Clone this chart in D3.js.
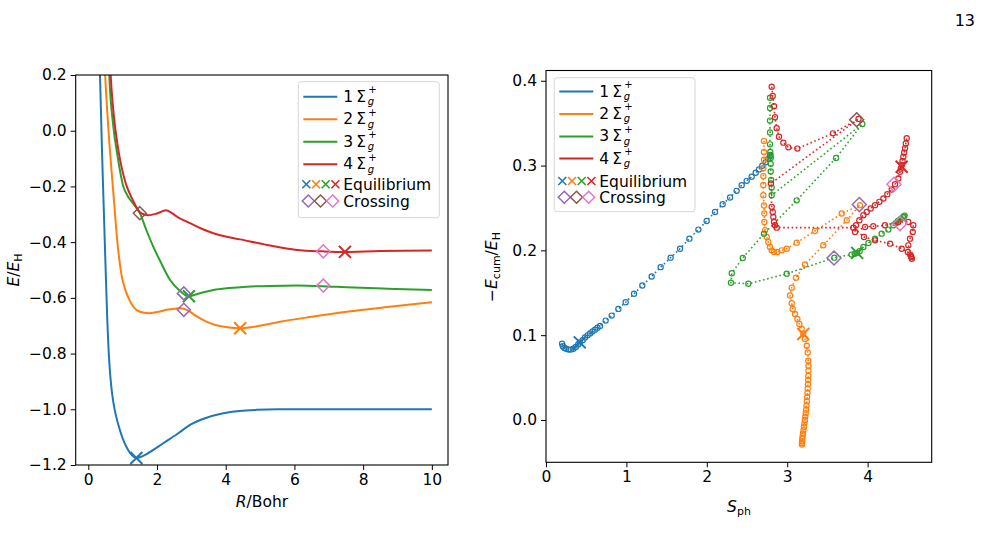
<!DOCTYPE html>
<html>
<head>
<meta charset="utf-8">
<script src="https://cdn.jsdelivr.net/npm/d3@7"></script>
<style>
body{margin:0;background:#fff;}
text{font-family:"DejaVu Sans",sans-serif;fill:#000;}
</style>
</head>
<body>
<div id="fig"></div>
<script>
// ---- left panel: potential energy curves E(R)
var rBlue = [0.28,0.34,0.40,0.45,0.50,0.55,0.61,0.67,0.73,0.80,0.92,1.05,1.16,1.28,1.39,1.55,1.80,2.18,2.60,2.96,3.40,3.93,4.40,4.90,5.50,7.00,10.0];
var eBlue = [0.50,0.20,-0.08,-0.28,-0.48,-0.67,-0.83,-0.92,-0.975,-1.02,-1.075,-1.12,-1.146,-1.166,-1.175,-1.17,-1.153,-1.122,-1.088,-1.056,-1.032,-1.014,-1.006,-1.002,-1.0,-1.0,-1.0];
var rOrange = [0.42,0.49,0.58,0.73,0.85,0.97,1.05,1.15,1.31,1.50,1.75,2.00,2.28,2.67,2.90,3.10,3.45,3.90,4.42,5.00,5.58,6.50,7.52,8.70,10.0];
var eOrange = [0.40,0.20,0.015,-0.225,-0.404,-0.52,-0.56,-0.595,-0.632,-0.65,-0.655,-0.651,-0.643,-0.637,-0.645,-0.662,-0.686,-0.703,-0.709,-0.700,-0.686,-0.668,-0.65,-0.633,-0.616];
var rGreen = [0.55,0.61,0.73,0.85,1.02,1.15,1.31,1.50,1.70,1.89,2.10,2.38,2.67,2.91,3.20,3.64,4.10,4.61,5.30,6.07,6.80,7.52,8.70,10.0];
var eGreen = [0.42,0.20,0.014,-0.09,-0.20,-0.235,-0.262,-0.296,-0.36,-0.416,-0.47,-0.536,-0.575,-0.594,-0.585,-0.572,-0.565,-0.56,-0.557,-0.556,-0.558,-0.562,-0.567,-0.572];
var rRed = [0.60,0.65,0.78,0.95,1.12,1.30,1.50,1.65,1.80,2.00,2.28,2.60,2.96,3.30,3.64,4.00,4.42,5.20,6.07,6.84,7.47,8.50,10.0];
var eRed = [0.42,0.20,0.014,-0.12,-0.20,-0.25,-0.293,-0.302,-0.303,-0.297,-0.286,-0.31,-0.332,-0.352,-0.368,-0.38,-0.39,-0.41,-0.428,-0.433,-0.435,-0.432,-0.43];

var eqR = [1.40, 4.42, 2.93, 7.47];
var eqE = [-1.175, -0.709, -0.594, -0.435];
var crossR = [1.50, 2.78, 2.78, 6.84, 6.84];
var crossE = [-0.296, -0.643, -0.584, -0.433, -0.556];

// ---- right panel: S_ph vs -E_cum
var sBlue = [0.20,0.21,0.23,0.25,0.28,0.31,0.34,0.37,0.40,0.42,0.455,0.485,0.517,0.547,0.578,0.609,0.640,0.672,0.742,0.817,0.90,0.991,1.095,1.198,1.314,1.426,1.55,1.667,1.783,1.895,1.998,2.102,2.197,2.289,2.371,2.434,2.496,2.558,2.608,2.649,2.69,2.732,2.765,2.786,2.79];
var cBlue = [0.090,0.087,0.085,0.084,0.083,0.083,0.084,0.086,0.089,0.0915,0.094,0.0974,0.0998,0.1021,0.1043,0.1065,0.1087,0.1109,0.1172,0.1231,0.131,0.1388,0.1488,0.1586,0.1692,0.1802,0.1914,0.202,0.2138,0.2245,0.2347,0.2453,0.2544,0.2623,0.2702,0.2769,0.282,0.2868,0.2915,0.2955,0.2998,0.3038,0.3077,0.3112,0.3125];
var sOrange = [2.711,2.711,2.711,2.703,2.703,2.703,2.703,2.711,2.715,2.715,2.724,2.745,2.765,2.786,2.807,2.836,2.877,2.932,2.994,3.118,3.346,3.678,3.905,3.74,3.449,3.221,3.109,3.056,3.035,3.056,3.068,3.097,3.126,3.151,3.18,3.2,3.221,3.243,3.255,3.262,3.264,3.264,3.262,3.26,3.258,3.255,3.252,3.248,3.244,3.24,3.235,3.23,3.225,3.22,3.214,3.208,3.202,3.197,3.192,3.188,3.186,3.184,3.183];
var cOrange = [0.329,0.316,0.307,0.297,0.2876,0.277,0.265,0.253,0.2434,0.2335,0.2237,0.2158,0.2099,0.2039,0.2,0.198,0.198,0.2,0.202,0.2091,0.2229,0.2434,0.2533,0.2355,0.206,0.1834,0.1677,0.1559,0.1467,0.1376,0.131,0.125,0.119,0.1133,0.1073,0.1014,0.0955,0.0876,0.0796,0.0698,0.064,0.058,0.052,0.047,0.042,0.037,0.032,0.027,0.022,0.017,0.012,0.008,0.004,0.0,-0.004,-0.008,-0.012,-0.016,-0.019,-0.022,-0.025,-0.027,-0.029];
var sGreen = [2.786,2.786,2.786,2.786,2.786,2.79,2.792,2.795,2.795,2.795,2.80,2.807,2.807,3.934,3.607,3.118,2.711,2.447,2.31,2.30,2.516,2.994,3.586,3.80,3.84,3.87,3.90,3.947,4.01,4.092,4.175,4.258,4.32,4.35,4.38,4.41,4.44,4.46,4.45];
var cGreen = [0.380,0.368,0.353,0.339,0.325,0.316,0.312,0.309,0.302,0.293,0.283,0.274,0.265,0.349,0.309,0.259,0.2197,0.191,0.173,0.1618,0.1606,0.1724,0.1914,0.195,0.196,0.197,0.199,0.204,0.2087,0.2138,0.2197,0.2245,0.2296,0.232,0.235,0.237,0.239,0.241,0.24];
var sRed = [2.807,2.82,2.836,2.848,2.869,2.898,2.952,3.014,3.126,3.569,3.887,2.798,2.807,2.82,2.827,2.836,2.848,2.869,3.822,3.955,4.092,4.279,4.424,4.50,4.53,4.545,4.55,4.54,4.506,4.527,4.561,4.568,4.506,4.382,4.216,4.071,3.968,3.843,3.856,3.897,3.947,3.989,4.038,4.092,4.146,4.196,4.245,4.30,4.341,4.382,4.403,4.414,4.424,4.434,4.444,4.455,4.465,4.475,4.486];
var cRed = [0.393,0.382,0.37,0.357,0.344,0.334,0.327,0.3215,0.32,0.338,0.355,0.279,0.2513,0.2453,0.2394,0.2335,0.2296,0.2268,0.2268,0.2158,0.2118,0.2079,0.202,0.198,0.195,0.192,0.19,0.193,0.2059,0.2138,0.2217,0.2296,0.2335,0.2335,0.2296,0.2284,0.2276,0.2217,0.2296,0.2355,0.2414,0.2453,0.2493,0.2533,0.2572,0.2612,0.2663,0.2718,0.2781,0.2848,0.2927,0.2966,0.3006,0.3055,0.3104,0.3154,0.3204,0.326,0.3322];

var eqS = [0.42, 3.20, 3.87, 4.424];
var eqC = [0.0915, 0.1014, 0.197, 0.2986];
var crossS = [3.864, 3.897, 3.582, 4.328, 4.403];
var crossC = [0.354, 0.254, 0.191, 0.278, 0.2316];

var stateNames = ["1", "2", "3", "4"];
var colors = ["#1f77b4", "#ff7f0e", "#2ca02c", "#d62728"];
var crossColors = ["#8c564b", "#9467bd", "#9467bd", "#e377c2", "#e377c2"];
var legendCross = ["#9467bd", "#8c564b", "#e377c2"];

var svg = d3.select("#fig").append("svg")
    .attr("width", 981)
    .attr("height", 557);

var xL = d3.scaleLinear().domain([-0.367, 10.47]).range([75.7, 448]);
var yL = d3.scaleLinear().domain([-1.2, 0.2]).range([465, 75]);
var xR = d3.scaleLinear().domain([0, 4.797]).range([546, 931.7]);
var yR = d3.scaleLinear().domain([-0.0499, 0.4121]).range([462.3, 70.5]);

var xPath = function(s){ return "M"+(-s)+","+(-s)+"L"+s+","+s+"M"+(-s)+","+s+"L"+s+","+(-s); };
var dPath = function(s){ return "M0,"+(-s)+"L"+s+",0L0,"+s+"L"+(-s)+",0Z"; };

function clip(id, x, y){
    svg.append("clipPath").attr("id", id).append("rect")
        .attr("x", x.range()[0]).attr("y", y.range()[1])
        .attr("width", x.range()[1]-x.range()[0])
        .attr("height", y.range()[0]-y.range()[1]);
}
clip("clipL", xL, yL);
clip("clipR", xR, yR);

function axes(x, y, xt, yt){
    var gx = svg.append("g").attr("transform", "translate(0,"+y.range()[0]+")")
        .call(d3.axisBottom(x).tickValues(xt).tickSize(5).tickPadding(4).tickFormat(d3.format("d")));
    var gy = svg.append("g").attr("transform", "translate("+x.range()[0]+",0)")
        .call(d3.axisLeft(y).tickValues(yt).tickSize(5).tickPadding(4).tickFormat(d3.format(".1f")));
    [gx, gy].forEach(function(g){
        g.select(".domain").remove();
        g.selectAll("line").attr("stroke", "#000").attr("stroke-width", 1);
        g.selectAll("text").attr("font-size", 15.5).attr("font-family", "DejaVu Sans");
    });
    svg.append("rect")
        .attr("x", x.range()[0]).attr("y", y.range()[1])
        .attr("width", x.range()[1]-x.range()[0])
        .attr("height", y.range()[0]-y.range()[1])
        .attr("fill", "none").attr("stroke", "#000").attr("stroke-width", 1.1);
}

// left panel
var gL = svg.append("g").attr("clip-path", "url(#clipL)");
var curves = [[rBlue,eBlue],[rOrange,eOrange],[rGreen,eGreen],[rRed,eRed]];
curves.forEach(function(c, i){
    var pts = c[0].map((r,j)=>[r, c[1][j]]);
    var lineL = d3.line().x(d=>xL(d[0])).y(d=>yL(d[1]))
        .curve(i == 3 ? d3.curveCatmullRom : d3.curveMonotoneX);
    gL.append("path").datum(pts).attr("d", lineL)
        .attr("fill", "none").attr("stroke", colors[i]).attr("stroke-width", 2);
});
gL.selectAll(".eq").data(eqR).enter().append("path")
    .attr("transform", (d,i)=>"translate("+xL(d)+","+yL(eqE[i])+")")
    .attr("d", xPath(6)).attr("fill", "none")
    .attr("stroke", (d,i)=>colors[i]).attr("stroke-width", 2);
gL.selectAll(".cr").data(crossR).enter().append("path")
    .attr("transform", (d,i)=>"translate("+xL(d)+","+yL(crossE[i])+")")
    .attr("d", dPath(6.5)).attr("fill", "none")
    .attr("stroke", (d,i)=>crossColors[i]).attr("stroke-width", 1.5);
axes(xL, yL, [0,2,4,6,8,10], [0.2,0.0,-0.2,-0.4,-0.6,-0.8,-1.0,-1.2]);

// right panel
var gR = svg.append("g").attr("clip-path", "url(#clipR)");
var lineR = d3.line().x(d=>xR(d[0])).y(d=>yR(d[1]));
var series = [[sBlue,cBlue],[sOrange,cOrange],[sGreen,cGreen],[sRed,cRed]];
series.forEach(function(c, i){
    var pts = c[0].map((s,j)=>[s, c[1][j]]);
    gR.append("path").datum(pts).attr("d", lineR)
        .attr("fill", "none").attr("stroke", colors[i]).attr("stroke-width", 1.6)
        .attr("stroke-dasharray", "1.6,2.6");
    gR.selectAll(".p"+i).data(pts).enter().append("circle")
        .attr("cx", d=>xR(d[0])).attr("cy", d=>yR(d[1])).attr("r", 2.6)
        .attr("fill", "none").attr("stroke", colors[i]).attr("stroke-width", 1.2);
});
gR.selectAll(".eq").data(eqS).enter().append("path")
    .attr("transform", (d,i)=>"translate("+xR(d)+","+yR(eqC[i])+")")
    .attr("d", xPath(6)).attr("fill", "none")
    .attr("stroke", (d,i)=>colors[i]).attr("stroke-width", 2);
gR.selectAll(".cr").data(crossS).enter().append("path")
    .attr("transform", (d,i)=>"translate("+xR(d)+","+yR(crossC[i])+")")
    .attr("d", dPath(7)).attr("fill", "none")
    .attr("stroke", (d,i)=>crossColors[i]).attr("stroke-width", 1.5);
axes(xR, yR, [0,1,2,3,4], [0.0,0.1,0.2,0.3,0.4]);

// legends
function legend(x0, y0, w, h, rows, eqY, crY){
    svg.append("rect").attr("x", x0).attr("y", y0).attr("width", w).attr("height", h)
        .attr("rx", 3).attr("fill", "#fff").attr("fill-opacity", 0.8)
        .attr("stroke", "#d6d6d6").attr("stroke-width", 1);
    var lx = x0 + 5;
    stateNames.forEach(function(n, i){
        svg.append("line").attr("x1", lx).attr("x2", lx+34).attr("y1", rows[i]).attr("y2", rows[i])
            .attr("stroke", colors[i]).attr("stroke-width", 2);
        var ty = rows[i] + 5;
        svg.append("text").attr("x", lx+40).attr("y", ty).attr("font-size", 15.5)
            .text(n+"\u2009\u03A3");
        // sub- and superscript as separate texts, stacked
        svg.append("text").attr("x", lx+64.5).attr("y", ty+3.5).attr("font-size", 10)
            .attr("font-style", "italic").text("g");
        svg.append("text").attr("x", lx+65).attr("y", ty-8.6).attr("font-size", 10)
            .text("+");
    });
    colors.forEach(function(c, i){
        svg.append("path").attr("transform", "translate("+(lx+3+i*9.7)+","+eqY+")")
            .attr("d", xPath(4)).attr("fill", "none").attr("stroke", c).attr("stroke-width", 1.6);
    });
    legendCross.forEach(function(c, i){
        svg.append("path").attr("transform", "translate("+(lx+5+i*12.2)+","+crY+")")
            .attr("d", dPath(6)).attr("fill", "none").attr("stroke", c).attr("stroke-width", 1.5);
    });
    svg.append("text").attr("x", lx+40).attr("y", eqY+5.5).attr("font-size", 15.5).text("Equilibrium");
    svg.append("text").attr("x", lx+40).attr("y", crY+5.5).attr("font-size", 15.5).text("Crossing");
}
legend(298.3, 81.7, 141, 136, [96.8,119.2,141.7,164.3], 184.3, 201);
legend(554.3, 77.7, 140.7, 134, [91.5,113.9,136.4,158.6], 181, 197.3);

// axis labels
var lab = svg.append("text").attr("text-anchor", "middle").attr("font-size", 15.5)
    .attr("transform", "translate(19,270) rotate(-90)");
lab.append("tspan").attr("font-style", "italic").text("E");
lab.append("tspan").text("/");
lab.append("tspan").attr("font-style", "italic").text("E");
lab.append("tspan").attr("font-size", 11).attr("dy", 3).text("H");

lab = svg.append("text").attr("text-anchor", "middle").attr("font-size", 15.5)
    .attr("transform", "translate(497,267) rotate(-90)");
lab.append("tspan").text("\u2212");
lab.append("tspan").attr("font-style", "italic").text("E");
lab.append("tspan").attr("font-size", 11).attr("dy", 3).text("cum");
lab.append("tspan").attr("dy", -3).text("/");
lab.append("tspan").attr("font-style", "italic").text("E");
lab.append("tspan").attr("font-size", 11).attr("dy", 3).text("H");

lab = svg.append("text").attr("text-anchor", "middle").attr("font-size", 15.5)
    .attr("x", 262).attr("y", 507);
lab.append("tspan").attr("font-style", "italic").text("R");
lab.append("tspan").text("/Bohr");

lab = svg.append("text").attr("text-anchor", "middle").attr("font-size", 15.5)
    .attr("x", 739).attr("y", 512);
lab.append("tspan").attr("font-style", "italic").text("S");
lab.append("tspan").attr("font-size", 11).attr("dy", 3).text("ph");

svg.append("text").attr("x", 975).attr("y", 26).attr("text-anchor", "end")
    .attr("font-family", "DejaVu Serif").attr("font-size", 16).text("13");
</script>
</body>
</html>
